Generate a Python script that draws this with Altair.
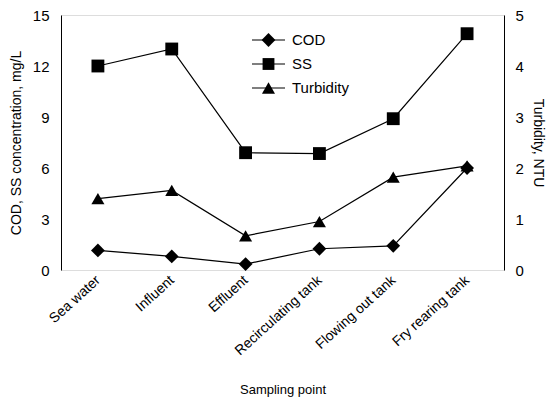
import altair as alt
import pandas as pd

categories = ["Sea water", "Influent", "Effluent", "Recirculating tank",
              "Flowing out tank", "Fry rearing tank"]
cod = [1.15, 0.8, 0.35, 1.25, 1.42, 6.0]
ss = [12.0, 13.0, 6.9, 6.85, 8.9, 13.9]
turbidity = [1.4, 1.56, 0.67, 0.95, 1.82, 2.04]

left_ticks = [0, 3, 6, 9, 12, 15]
right_ticks = [0, 1, 2, 3, 4, 5]

rows = []
for name, vals in [("COD", cod), ("SS", ss), ("Turbidity", turbidity)]:
    for c, v in zip(categories, vals):
        rows.append({"sampling": c, "series": name, "value": v})
df = pd.DataFrame(rows)

FONT = "Liberation Sans"
shape_scale = alt.Scale(domain=["COD", "SS", "Turbidity"],
                        range=["diamond", "square", "triangle-up"])
size_scale = alt.Scale(domain=["COD", "SS", "Turbidity"], range=[190, 140, 170])

x_enc = alt.X("sampling:N", sort=categories,
              scale=alt.Scale(type="point", padding=0.5),
              axis=alt.Axis(title="Sampling point", labelAngle=-42, labelFontSize=14,
                            labelFont=FONT, labelColor="black", labelPadding=8,
                            labelBaseline="middle", labelAlign="right",
                            ticks=False, domain=False, titleFont=FONT,
                            titleFontSize=13, titleFontWeight="normal",
                            titleColor="black", titlePadding=26))

base = alt.Chart(df)

y_left = alt.Y("value:Q", scale=alt.Scale(domain=[0, 15], nice=False),
               axis=alt.Axis(title="COD, SS concentration, mg/L", values=left_ticks,
                             grid=False, ticks=False, domainColor="black",
                             labelFont=FONT, labelFontSize=15, labelColor="black",
                             labelPadding=12, titleFont=FONT, titleFontSize=14,
                             titleFontWeight="normal", titleColor="black",
                             titlePadding=9))
left_base = base.transform_filter(alt.FieldOneOfPredicate(field="series", oneOf=["COD", "SS"]))
left_lines = left_base.mark_line(color="black", strokeWidth=1.2).encode(
    x=x_enc, y=y_left, detail="series:N")
left_pts = left_base.mark_point(filled=True, color="black", opacity=1).encode(
    x=x_enc, y=y_left,
    shape=alt.Shape("series:N", scale=shape_scale, legend=None),
    size=alt.Size("series:N", scale=size_scale, legend=None))

# manual legend
legend_layers = []
leg_y = [25, 49, 73]
for name, yy in zip(["COD", "SS", "Turbidity"], leg_y):
    shp = {"COD": "diamond", "SS": "square", "Turbidity": "triangle-up"}[name]
    sz = {"COD": 190, "SS": 140, "Turbidity": 170}[name]
    legend_layers.append(alt.Chart(pd.DataFrame({"series": [name]})).mark_rule(
        color="black", strokeWidth=1.2).encode(
        x=alt.value(191), x2=alt.value(224), y=alt.value(yy)))
    legend_layers.append(alt.Chart(pd.DataFrame({"series": [name]})).mark_point(
        filled=True, color="black", opacity=1, shape=shp, size=sz).encode(
        x=alt.value(207.5), y=alt.value(yy)))
    legend_layers.append(alt.Chart(pd.DataFrame({"series": [name]})).mark_text(
        align="left", baseline="middle", font=FONT, fontSize=15, color="black").encode(
        x=alt.value(231), y=alt.value(yy), text="series:N"))

left = alt.layer(left_lines, left_pts, *legend_layers)

y_right = alt.Y("value:Q", scale=alt.Scale(domain=[0, 5], nice=False),
                axis=alt.Axis(title="Turbidity, NTU", orient="right", values=right_ticks,
                              grid=False, ticks=False, domainColor="black",
                              labelFont=FONT, labelFontSize=15, labelColor="black",
                              labelPadding=11, titleFont=FONT, titleFontSize=14,
                              titleFontWeight="normal", titleColor="black",
                              titlePadding=7))
right_base = base.transform_filter(alt.FieldEqualPredicate(field="series", equal="Turbidity"))
right_line = right_base.mark_line(color="black", strokeWidth=1.2).encode(x=x_enc, y=y_right)
right_pts = right_base.mark_point(filled=True, color="black", opacity=1,
                                  shape="triangle-up", size=170).encode(x=x_enc, y=y_right)
right = alt.layer(right_line, right_pts)

chart = alt.layer(left, right).resolve_scale(y="independent").properties(
    width=443, height=255,
    autosize=alt.AutoSizeParams(type="none"),
    padding={"left": 53, "top": 7, "right": 46, "bottom": 130},
).configure_view(stroke="black", strokeWidth=1.3).configure(background="white")

chart.save("out.html", embed_options={"renderer": "svg", "actions": False})
